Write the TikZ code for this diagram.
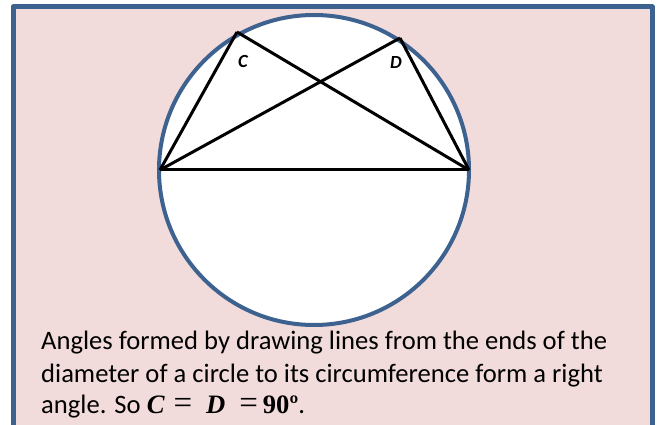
\documentclass[tikz,border=0pt]{standalone}
\usepackage{fontspec}
\setmainfont{Carlito}
\newfontfamily\mathserif{Liberation Serif}
\newcommand{\eqsign}{{\fontsize{33}{33}\selectfont\mathserif =}}
\definecolor{boxpink}{HTML}{F2DCDB}
\definecolor{rimblue}{HTML}{3D6290}

\begin{document}
\begin{tikzpicture}[x=1pt, y=-1pt, line join=round, every node/.style={font=\fontsize{26.6}{32.5}\selectfont, inner sep=0pt}]
	\useasboundingbox (0,0) rectangle (659,425);
	\clip (0,0) rectangle (659,425);
	\draw[rimblue, line width=5pt, fill=boxpink] (13,7) rectangle (652,450);
	\coordinate (O) at (314,170);
	\draw[rimblue, line width=4pt, fill=white] (O) circle[radius=155pt];
	\coordinate (A) at (160,170);
	\coordinate (B) at (469,170);
	\coordinate (C) at (237,32);
	\coordinate (D) at (400,38);
	\foreach \u/\v in {A/B, A/C, C/B, A/D, D/B} {\draw[line width=3pt] (\u) -- (\v);}
	\node[font=\bfseries\itshape\fontsize{18.5}{18.5}\selectfont] (labC) at (243,61) {C};
	\node[font=\bfseries\itshape\fontsize{18.5}{18.5}\selectfont] (labD) at (396,63) {D};
	\node[anchor=base west] (line1) at (41,349) {Angles formed by drawing lines from the ends of the};
	\node[anchor=base west] (line2) at (41,382) {diameter of a circle to its circumference form a right};
	\node[anchor=base west] (line3) at (41,413) {angle. So {\mathserif\bfseries\itshape C}\hspace{9pt}\eqsign\hspace{14pt}{\mathserif\bfseries\itshape D}\hspace{14pt}\eqsign\hspace{5pt}{\mathserif\bfseries 90º}.};
\end{tikzpicture}
\end{document}
